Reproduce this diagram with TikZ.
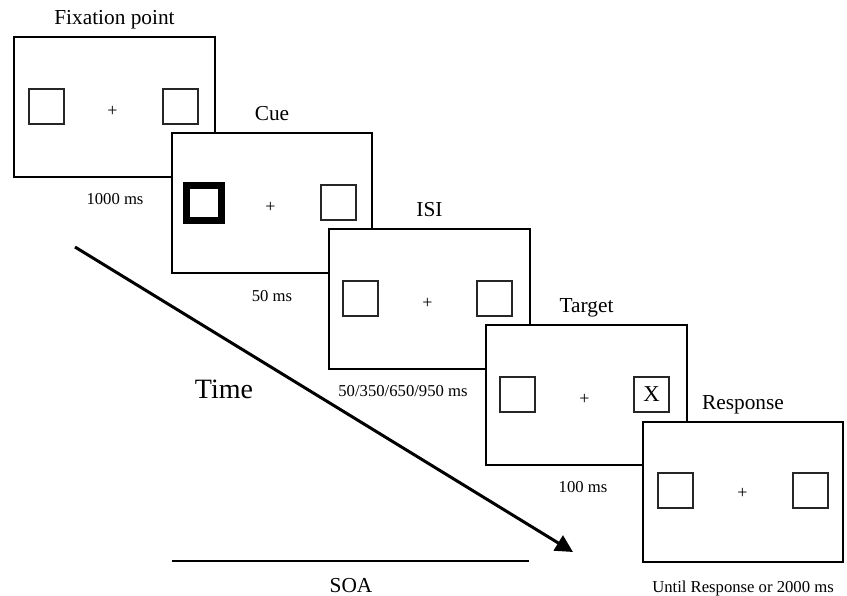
\documentclass[tikz,border=0pt]{standalone}
\usepackage{fontspec}
\setmainfont{Liberation Serif}
\usetikzlibrary{arrows.meta}

\tikzset{every picture/.style={line width=0.75pt}}
\tikzset{
  frame/.style={draw=black, fill=white, line width=1.5pt},
  sq/.style={draw=black!85, line width=1pt},
  cuesq/.style={draw=black, line width=5.25pt},
  ttl/.style={anchor=base, inner sep=0.75pt, font=\fontsize{16}{19}\selectfont},
  dur/.style={anchor=base, inner sep=0.75pt, font=\fontsize{12.5}{15}\selectfont},
  fixpt/.style={inner sep=0pt, font=\fontsize{13.5}{15}\selectfont},
}

\begin{document}
\begin{tikzpicture}[x=0.75pt,y=0.75pt,yscale=-1,xscale=1]
\useasboundingbox (0,0) rectangle (847,596);

%Shape: Rectangle [fixation display]
\draw [frame] (14,37) rectangle (215,177);
\draw [sq] (29,89) rectangle (64,124);
\draw [sq] (163,89) rectangle (198,124);
\draw (112.5,111) node [fixpt] (plusA) {+};
%Shape: Rectangle [cue display]
\draw [frame] (172,133) rectangle (372,273);
\draw [cuesq] (186.5,185) rectangle (221.5,220);
\draw [sq] (321,185) rectangle (356,220);
\draw (270.5,207) node [fixpt] (plusB) {+};
%Shape: Rectangle [isi display]
\draw [frame] (329,229) rectangle (530,369);
\draw [sq] (343,281) rectangle (378,316);
\draw [sq] (477,281) rectangle (512,316);
\draw (427.5,303) node [fixpt] (plusC) {+};
%Shape: Rectangle [target display]
\draw [frame] (486,325) rectangle (687,465);
\draw [sq] (500,377) rectangle (535,412);
\draw [sq] (634,377) rectangle (669,412);
\draw (584.5,399) node [fixpt] (plusD) {+};
\draw (651.5,394.5) node [inner sep=0pt, font=\fontsize{17}{20}\selectfont] (targetX) {X};
%Shape: Rectangle [response display]
\draw [frame] (643,422) rectangle (843,562);
\draw [sq] (658,473) rectangle (693,508);
\draw [sq] (793,473) rectangle (828,508);
\draw (742.5,493) node [fixpt] (plusE) {+};

%Straight Lines [time arrow]
\coordinate (tstart) at (75,247);
\coordinate (tend) at (573,552);
\draw [line width=2.25pt, -{Triangle[length=13pt,width=13pt]}] (tstart) -- (tend);
%Straight Lines [soa]
\coordinate (soaL) at (172,561);
\coordinate (soaR) at (529,561);
\draw [line width=1.1pt] (soaL) -- (soaR);

% Text Node
\draw (114.5,24) node [ttl] (fixTitle) {Fixation point};
% Text Node
\draw (272,120) node [ttl] (cueTitle) {Cue};
% Text Node
\draw (429.5,216) node [ttl] (isiTitle) {ISI};
% Text Node
\draw (586.5,312) node [ttl] (tgtTitle) {Target};
% Text Node
\draw (743,409) node [ttl] (respTitle) {Response};
% Text Node
\draw (115,204) node [dur] (fixDur) {1000 ms};
% Text Node
\draw (272,301) node [dur] (cueDur) {50 ms};
% Text Node
\draw (403,396) node [dur] (isiDur) {50/350/650/950 ms};
% Text Node
\draw (583,492) node [dur] (tgtDur) {100 ms};
% Text Node
\draw (743,592) node [dur] (respDur) {Until Response or 2000 ms};
% Text Node
\draw (224,398) node [anchor=base, inner sep=0.75pt, font=\fontsize{21}{25}\selectfont] (timeLbl) {Time};
% Text Node
\draw (351,592) node [ttl] (soaLbl) {SOA};

\end{tikzpicture}
\end{document}
